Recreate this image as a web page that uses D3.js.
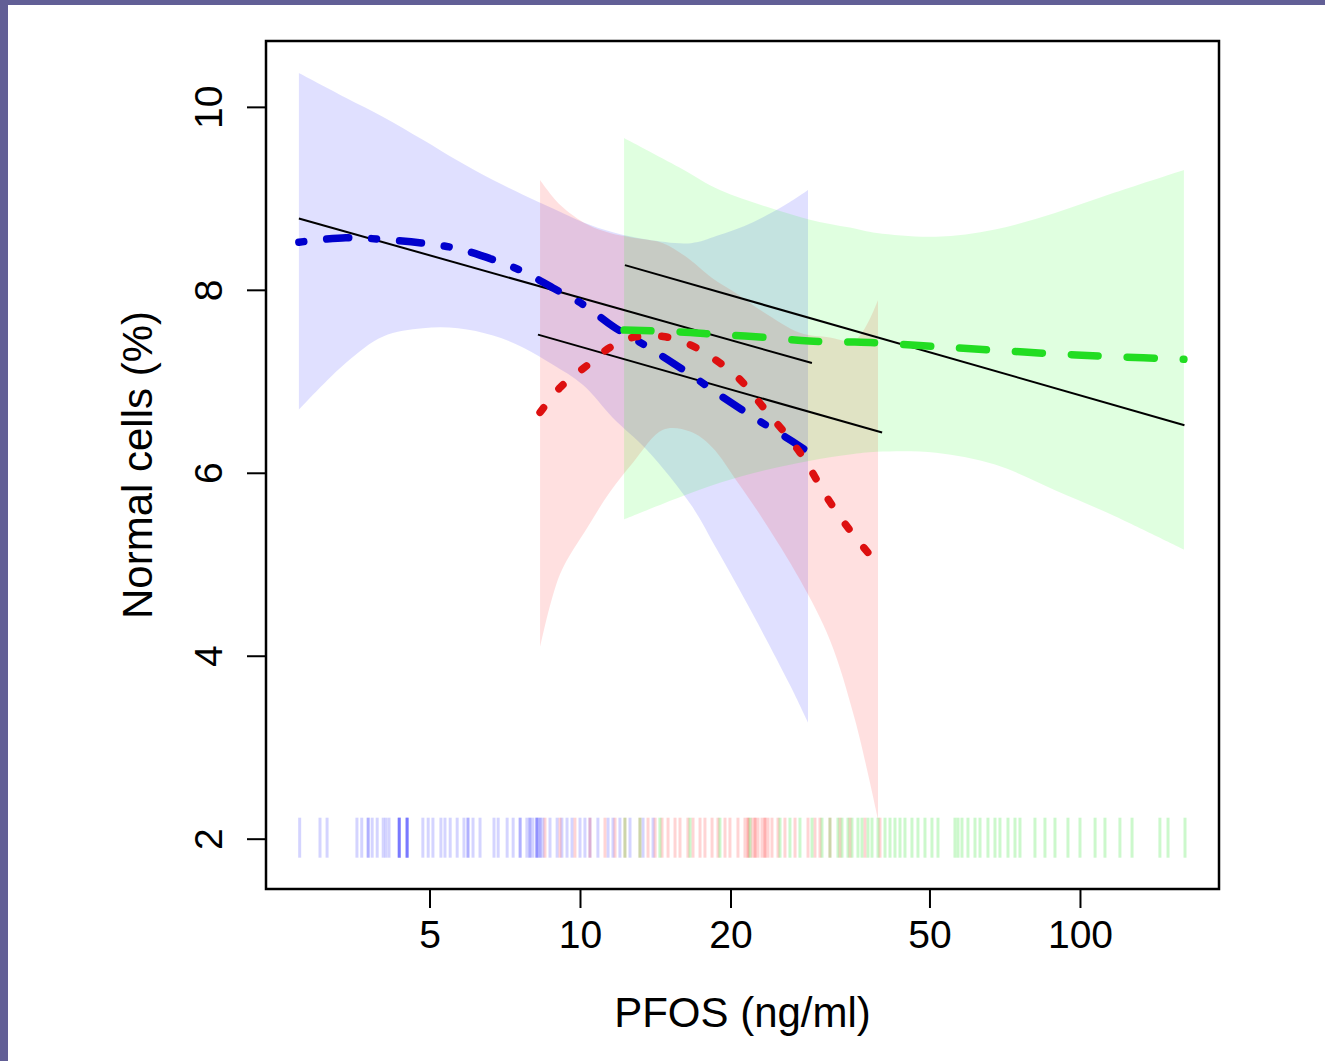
<!DOCTYPE html>
<html>
<head>
<meta charset="utf-8">
<script src="https://cdn.jsdelivr.net/npm/d3@7"></script>
<style>
  body { margin: 0; background: #625f96; }
  svg { display: block; }
  text { font-family: "Liberation Sans", Arial, Helvetica, sans-serif; fill: #000; }
</style>
</head>
<body>
<svg id="svg"></svg>
<script>
// x: PFOS (ng/ml), y: Normal cells (%)
const xTicks = [5, 10, 20, 50, 100];
const yTicks = [2, 4, 6, 8, 10];

// smooth fit + confidence band, group 1 (blue)
const blueX   = [2.74, 3.40, 4.04, 4.85, 5.70, 6.70, 7.69, 8.83, 10.14, 11.64, 13.61, 16.67, 18.79, 22.18, 26.30, 28.58];
const blueFit = [8.52, 8.57, 8.55, 8.51, 8.45, 8.33, 8.20, 8.02, 7.84, 7.60, 7.38, 7.07, 6.87, 6.61, 6.36, 6.23];
const blueHi  = [10.37, 10.10, 9.89, 9.64, 9.41, 9.20, 9.04, 8.89, 8.74, 8.63, 8.55, 8.51, 8.59, 8.74, 8.96, 9.09];
const blueLo  = [6.69, 7.20, 7.49, 7.58, 7.58, 7.50, 7.37, 7.18, 6.96, 6.60, 6.25, 5.65, 5.16, 4.45, 3.68, 3.27];

// group 2 (red)
const redX   = [8.32, 9.12, 10.37, 11.48, 12.76, 14.66, 16.60, 18.37, 20.70, 23.23, 27.54, 31.62, 35.48, 39.45];
const redFit = [6.66, 6.93, 7.18, 7.37, 7.48, 7.49, 7.40, 7.26, 7.04, 6.72, 6.22, 5.68, 5.30, 5.00];
const redHi  = [9.20, 8.93, 8.71, 8.62, 8.57, 8.51, 8.33, 8.13, 7.95, 7.76, 7.53, 7.48, 7.45, 7.89];
const redLo  = [4.09, 4.89, 5.41, 5.79, 6.11, 6.47, 6.45, 6.28, 5.89, 5.49, 4.83, 4.17, 3.30, 2.21];

// group 3 (green)
const greenX   = [12.25, 15.78, 19.05, 23.55, 28.71, 34.67, 39.26, 51.52, 67.61, 89.13, 116.9, 161.4];
const greenFit = [7.56, 7.54, 7.51, 7.48, 7.44, 7.43, 7.42, 7.38, 7.34, 7.30, 7.27, 7.24];
const greenHi  = [9.66, 9.34, 9.09, 8.91, 8.77, 8.68, 8.62, 8.58, 8.66, 8.84, 9.06, 9.31];
const greenLo  = [5.49, 5.73, 5.89, 6.03, 6.13, 6.20, 6.23, 6.22, 6.09, 5.81, 5.53, 5.16];

// linear fits (end points)
const blueLinX = [2.74, 29.1],  blueLinY = [8.78, 7.20];
const redLinX = [8.24, 40.2],   redLinY = [7.51, 6.44];
const greenLinX = [12.3, 161.8], greenLinY = [8.27, 6.52];

// rug of observations
const blueRug = [2.75, 3.02, 3.12, 3.58, 3.66, 3.77, 3.77, 3.84, 3.93, 4.04, 4.09, 4.15, 4.35, 4.35, 4.35, 4.35,
  4.51, 4.51, 4.51, 4.51, 4.85, 4.97, 5.08, 5.27, 5.37, 5.50, 5.68, 5.86, 5.97, 5.97, 6.11, 6.31, 6.73, 6.86,
  7.15, 7.35, 7.59, 7.59, 7.83, 7.94, 7.94, 8.05, 8.20, 8.20, 8.20, 8.32, 8.32, 8.43, 8.71, 9.00, 9.20, 9.42,
  9.64, 10.0, 10.23, 10.47, 10.86, 11.38, 11.64, 12.02, 12.59, 13.37, 14.0];
const redRug = [8.51, 9.12, 9.77, 10.47, 11.22, 11.75, 12.30, 13.18, 13.68, 14.13, 14.59, 15.00, 15.49, 15.85,
  16.44, 16.83, 17.38, 17.78, 18.37, 18.88, 19.50, 19.95, 20.70, 21.38, 21.68, 21.68, 22.08, 22.39, 22.39,
  22.70, 23.12, 23.44, 23.44, 23.77, 24.21, 24.89, 25.70, 26.92, 28.58, 29.51, 30.20, 31.62, 33.11, 34.67,
  37.15, 39.81];
const greenRug = [12.30, 13.18, 14.45, 16.60, 19.05, 21.88, 25.12, 26.30, 27.54, 29.11, 30.48, 31.62, 32.81,
  33.42, 34.36, 34.99, 35.97, 36.64, 37.67, 38.37, 39.45, 40.74, 41.69, 42.66, 43.65, 44.67, 46.13, 47.42,
  48.98, 50.58, 52.00, 56.23, 57.02, 58.08, 59.70, 61.66, 63.10, 65.46, 67.61, 69.18, 71.78, 74.13, 75.86,
  81.28, 85.11, 89.13, 94.62, 100, 107.2, 112.2, 120.2, 127.1, 144.5, 150.0, 162.2];

const width = 1325, height = 1061;
const box = { left: 266, right: 1219, top: 41, bottom: 889 };

const svg = d3.select("#svg").attr("width", width).attr("height", height);

// page frame
svg.append("rect").attr("x", 8).attr("y", 5).attr("width", width - 8).attr("height", height - 5).attr("fill", "#fff");

const x = d3.scaleLog().domain([2.355, 189.7]).range([box.left, box.right]);
const y = d3.scaleLinear().domain([1.45, 10.72]).range([box.bottom, box.top]);

const zip = (xs, a, b) => xs.map((v, i) => ({ x: v, a: a[i], b: b ? b[i] : null }));

const curve = d3.curveCatmullRom.alpha(0.5);
const band = d3.area()
    .x(d => x(d.x)).y0(d => y(d.a)).y1(d => y(d.b))
    .curve(curve);
const line = d3.line()
    .x(d => x(d.x)).y(d => y(d.a))
    .curve(curve);

const plot = svg.append("g");

// confidence bands
[[blueX, blueLo, blueHi, "rgba(0,0,255,0.12)"],
 [redX, redLo, redHi, "rgba(255,0,0,0.12)"],
 [greenX, greenLo, greenHi, "rgba(0,255,0,0.12)"]].forEach(([xs, lo, hi, col]) => {
    plot.append("path").datum(zip(xs, lo, hi)).attr("d", band).attr("fill", col);
});

// rug
const rugY = y(2);
[[blueRug, "rgba(0,0,255,0.17)"], [redRug, "rgba(255,0,0,0.17)"], [greenRug, "rgba(0,220,0,0.2)"]]
    .forEach(([vals, col]) => {
        plot.append("g").selectAll("line").data(vals).join("line")
            .attr("x1", d => x(d)).attr("x2", d => x(d))
            .attr("y1", rugY - 21).attr("y2", rugY + 19)
            .attr("stroke", col).attr("stroke-width", 3);
    });

// linear fits
[[blueLinX, blueLinY], [redLinX, redLinY], [greenLinX, greenLinY]].forEach(([xs, ys]) => {
    plot.append("path").datum(zip(xs, ys)).attr("d", line)
        .attr("fill", "none").attr("stroke", "#000").attr("stroke-width", 2);
});

// smooth fits
[[blueX, blueFit, "#0000cd", "5,23,22,23"],
 [redX, redFit, "#dd1010", "6,24"],
 [greenX, greenFit, "#22dd22", "27,29"]].forEach(([xs, ys, col, dash]) => {
    plot.append("path").datum(zip(xs, ys)).attr("d", line)
        .attr("fill", "none").attr("stroke", col).attr("stroke-width", 7.5)
        .attr("stroke-linecap", "round").attr("stroke-dasharray", dash);
});

// axes
const xAxis = svg.append("g")
    .attr("transform", `translate(0,${box.bottom})`)
    .call(d3.axisBottom(x).tickValues(xTicks).tickFormat(d3.format("d")).tickSize(19).tickPadding(12));
xAxis.select(".domain").remove();
xAxis.selectAll("line").attr("stroke", "#000").attr("stroke-width", 2);
xAxis.selectAll("text").attr("font-size", 39).style("font-family", '"Liberation Sans", Arial, sans-serif');

const yAxis = svg.append("g")
    .attr("transform", `translate(${box.left},0)`)
    .call(d3.axisLeft(y).tickValues(yTicks).tickSize(19));
yAxis.select(".domain").remove();
yAxis.selectAll("line").attr("stroke", "#000").attr("stroke-width", 2);
yAxis.selectAll("text")
    .attr("x", 0).attr("y", -44).attr("dy", 0)
    .attr("transform", "rotate(-90)")
    .attr("text-anchor", "middle")
    .attr("font-size", 39).style("font-family", '"Liberation Sans", Arial, sans-serif');

// plot box
svg.append("rect")
    .attr("x", box.left).attr("y", box.top)
    .attr("width", box.right - box.left).attr("height", box.bottom - box.top)
    .attr("fill", "none").attr("stroke", "#000").attr("stroke-width", 2.5);

// titles
svg.append("text")
    .attr("x", (box.left + box.right) / 2).attr("y", 1027)
    .attr("text-anchor", "middle").attr("font-size", 42)
    .text("PFOS (ng/ml)");
svg.append("text")
    .attr("transform", `translate(152,${(box.top + box.bottom) / 2}) rotate(-90)`)
    .attr("text-anchor", "middle").attr("font-size", 42)
    .text("Normal cells (%)");
</script>
</body>
</html>
